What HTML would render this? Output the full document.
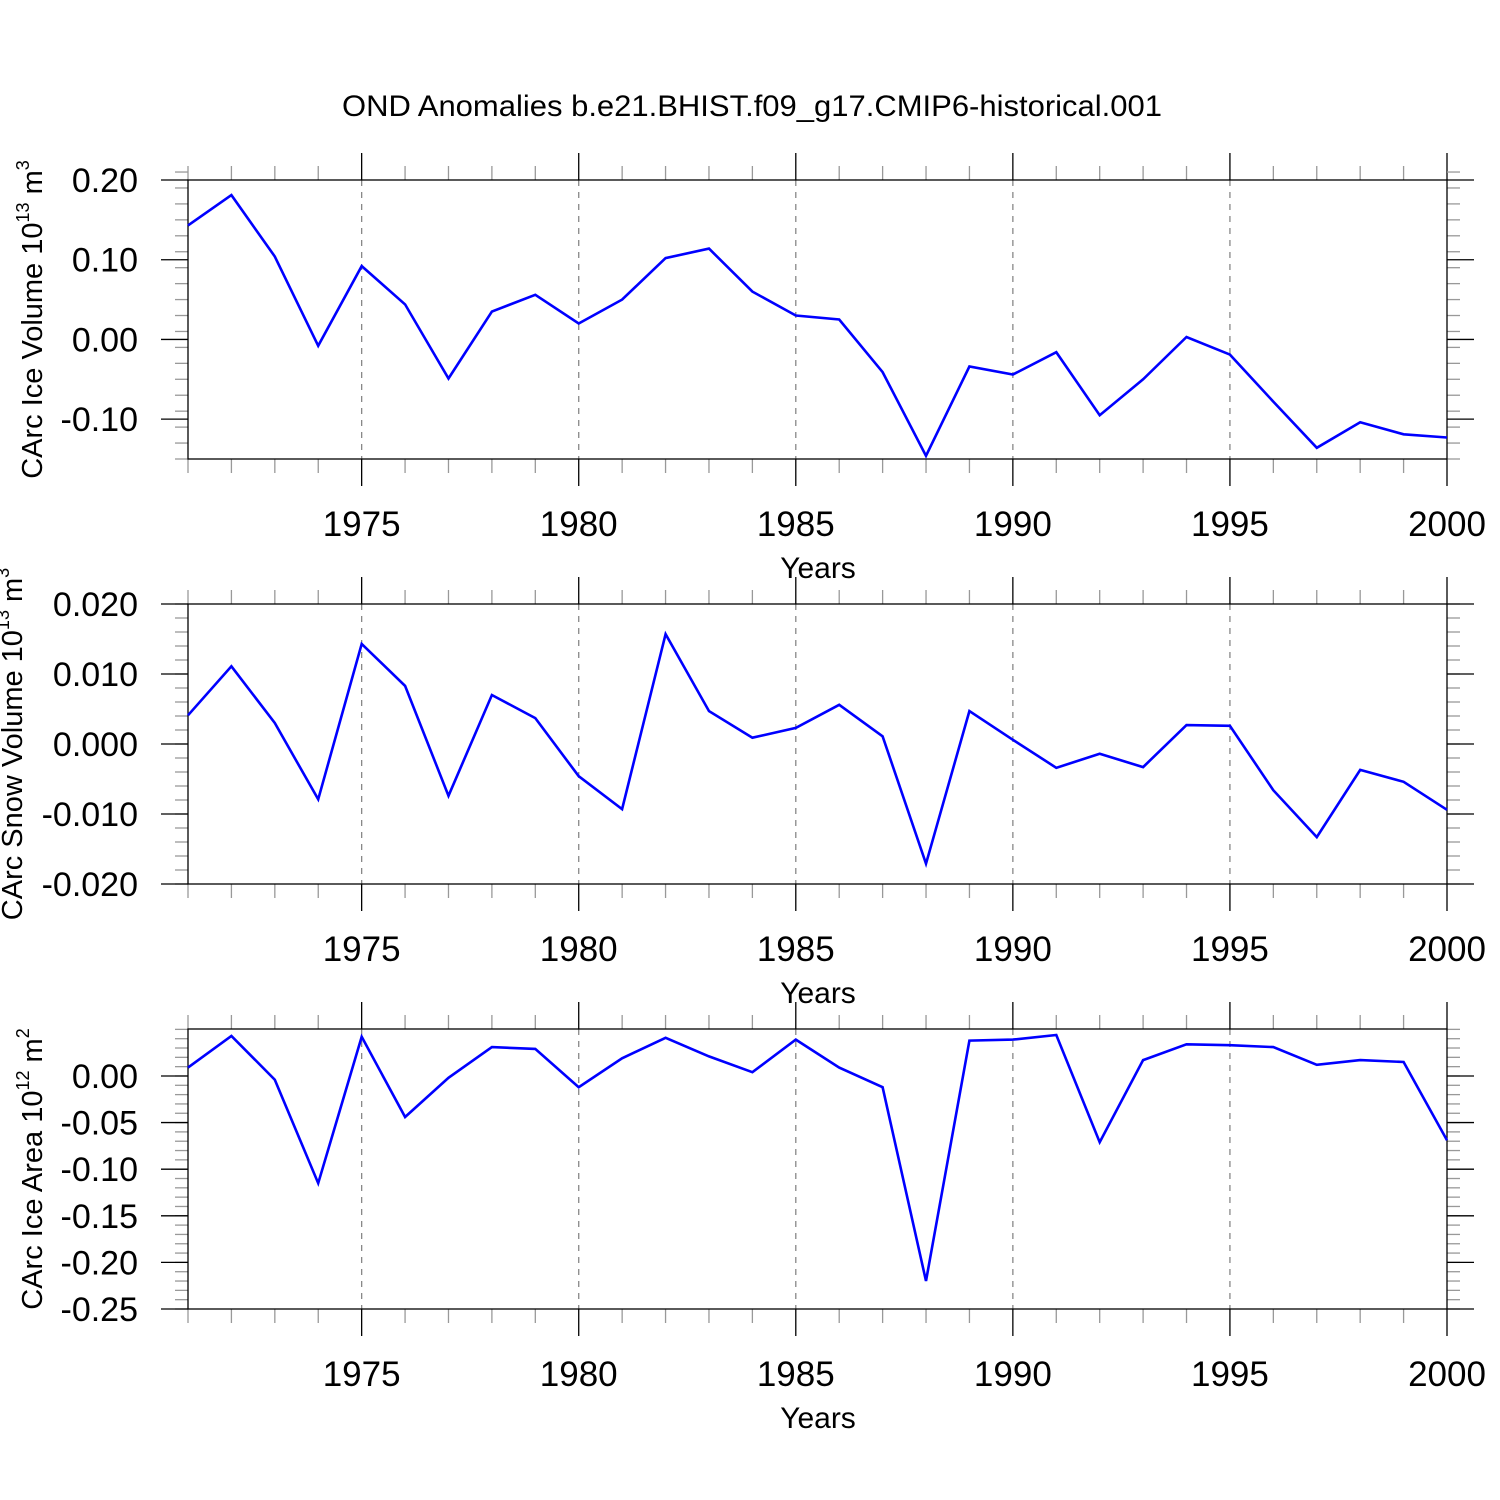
<!DOCTYPE html>
<html><head><meta charset="utf-8"><style>
body{margin:0;background:#fff}
svg{display:block;font-family:"Liberation Sans",sans-serif}
</style></head><body>
<svg id="chart" width="1500" height="1500" viewBox="0 0 1500 1500">
<text x="752" y="116" font-size="30" textLength="820" lengthAdjust="spacingAndGlyphs" text-anchor="middle">OND Anomalies b.e21.BHIST.f09_g17.CMIP6-historical.001</text>
</svg>
<script>
const years = [1971,1972,1973,1974,1975,1976,1977,1978,1979,1980,1981,1982,1983,1984,1985,1986,1987,1988,1989,1990,1991,1992,1993,1994,1995,1996,1997,1998,1999,2000];
const iceVolume = [0.143,0.181,0.104,-0.008,0.092,0.044,-0.049,0.035,0.056,0.020,0.050,0.102,0.114,0.060,0.030,0.025,-0.041,-0.146,-0.034,-0.044,-0.016,-0.095,-0.050,0.003,-0.019,-0.078,-0.136,-0.104,-0.119,-0.123];
const snowVolume = [0.0041,0.0111,0.0030,-0.0079,0.0143,0.0083,-0.0074,0.0070,0.0037,-0.0046,-0.0093,0.0157,0.0047,0.0009,0.0023,0.0056,0.0011,-0.0171,0.0047,0.0006,-0.0034,-0.0014,-0.0033,0.0027,0.0026,-0.0066,-0.0133,-0.0037,-0.0054,-0.0094];
const iceArea = [0.009,0.043,-0.004,-0.115,0.042,-0.044,-0.002,0.031,0.029,-0.012,0.019,0.041,0.021,0.004,0.039,0.009,-0.012,-0.220,0.038,0.039,0.044,-0.071,0.017,0.034,0.033,0.031,0.012,0.017,0.015,-0.069];
const xTickLabels = [1975,1980,1985,1990,1995,2000];
const yTicks1 = ["0.20","0.10","0.00","-0.10"];
const yTicks2 = ["0.020","0.010","0.000","-0.010","-0.020"];
const yTicks3 = ["0.00","-0.05","-0.10","-0.15","-0.20","-0.25"];

const svg = document.getElementById('chart');
const NS = 'http://www.w3.org/2000/svg';
function mk(tag, attrs, parent){const e=document.createElementNS(NS,tag);for(const k in attrs)e.setAttribute(k,attrs[k]);(parent||svg).appendChild(e);return e;}
const X0=188, X1=1447, XMIN=1971, XMAX=2000;
const xs = v => X0 + (v-XMIN)/(XMAX-XMIN)*(X1-X0);

function panel(cfg){
  const {top,bottom,ymin,ymax,ticks,minorStep,values,label,exp,unitExp,name} = cfg;
  const g = mk('g',{});
  
  
  const ys = v => bottom - (v-ymin)/(ymax-ymin)*(bottom-top);
  xTickLabels.forEach(yr=>{ if(yr<XMAX){ const l=mk('line',{x1:xs(yr),x2:xs(yr),y1:top,y2:bottom,stroke:'#888','stroke-width':1.3,'stroke-dasharray':'6,6'},g);
    
     }});
  for(let yr=XMIN; yr<=XMAX; yr++){
    const major = yr%5===0; const x=xs(yr); const len = major?27:14;
    mk('line',{x1:x,x2:x,y1:top-len,y2:top,stroke:major?'#000':'#999','stroke-width':1.3},g);
    mk('line',{x1:x,x2:x,y1:bottom,y2:bottom+len,stroke:major?'#000':'#999','stroke-width':1.3},g);
  }
  const n = Math.round((ymax-ymin)/minorStep);
  for(let i=0;i<=n;i++){ const y=ys(ymin+i*minorStep);
    mk('line',{x1:X0-13,x2:X0,y1:y,y2:y,stroke:'#999','stroke-width':1.3},g);
    mk('line',{x1:X1,x2:X1+13,y1:y,y2:y,stroke:'#999','stroke-width':1.3},g);}
  ticks.forEach(t=>{ const v=parseFloat(t); const y=ys(v);
    mk('line',{x1:X0-27,x2:X0,y1:y,y2:y,stroke:'#000','stroke-width':1.3},g);
    mk('line',{x1:X1,x2:X1+27,y1:y,y2:y,stroke:'#000','stroke-width':1.3},g);
    const tx=mk('text',{x:138,y:y+12,'font-size':34,'text-anchor':'end'},g); tx.textContent=t;
    
    
  });
  const fr=mk('rect',{x:X0,y:top,width:X1-X0,height:bottom-top,fill:'none',stroke:'#000','stroke-width':1.3},g);
  
  
  xTickLabels.forEach(yr=>{ const t=mk('text',{x:xs(yr),y:bottom+77,'font-size':35,'text-anchor':'middle'},g); t.textContent=yr;
    
     });
  const xt=mk('text',{x:818,y:bottom+119,'font-size':30,'text-anchor':'middle'},g); xt.textContent='Years';
  
  
  const cy=(top+bottom)/2 + cfg.dy;
  const yl=mk('text',{x:0,y:0,'font-size':29,'text-anchor':'middle',transform:`translate(${cfg.lx},${cy}) rotate(-90)`},g);
  yl.innerHTML = label+' 10<tspan font-size="18" dy="-13">'+exp+'</tspan><tspan dy="13"> m</tspan><tspan font-size="18" dy="-13">'+unitExp+'</tspan>';
  
  
  const pts = values.map((v,i)=>xs(years[i]).toFixed(1)+','+ys(v).toFixed(1)).join(' ');
  const pl=mk('polyline',{points:pts,fill:'none',stroke:'#0000ff','stroke-width':2.6,'stroke-linejoin':'miter'},g);
  
  
}
panel({name:'ice-volume',top:180,bottom:459,ymin:-0.15,ymax:0.20,ticks:yTicks1,minorStep:0.02,values:iceVolume,label:'CArc Ice Volume',exp:'13',unitExp:'3',lx:42,dy:0});
panel({name:'snow-volume',top:604,bottom:884,ymin:-0.020,ymax:0.020,ticks:yTicks2,minorStep:0.002,values:snowVolume,label:'CArc Snow Volume',exp:'13',unitExp:'3',lx:22,dy:0});
panel({name:'ice-area',top:1029,bottom:1309,ymin:-0.25,ymax:0.0504,ticks:yTicks3,minorStep:0.01,values:iceArea,label:'CArc Ice Area',exp:'12',unitExp:'2',lx:42,dy:0});
</script>
</body></html>
